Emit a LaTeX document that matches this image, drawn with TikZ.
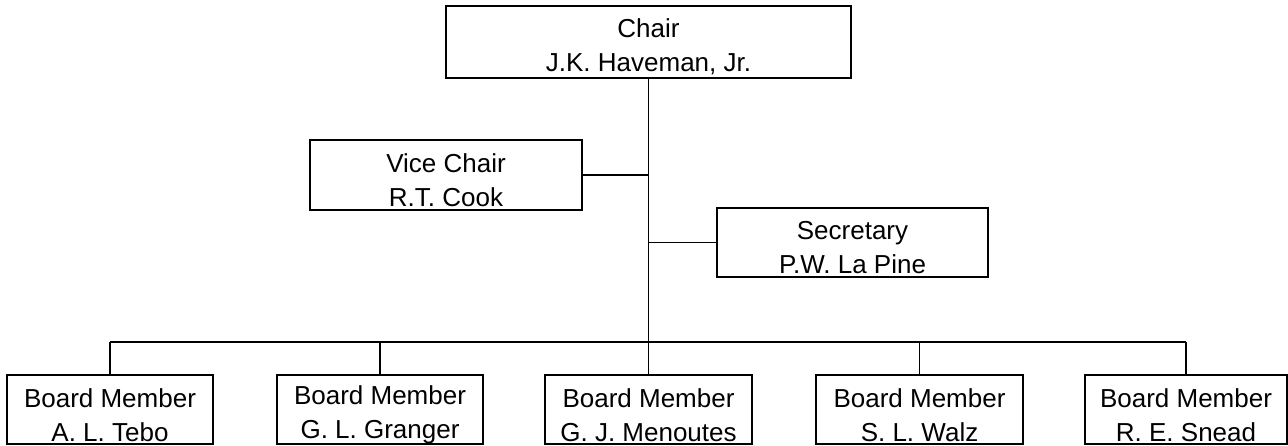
\documentclass[tikz,border=0pt]{standalone}
\usepackage{fontspec}
\setmainfont{Liberation Sans}
\begin{document}
\begin{tikzpicture}[x=1pt,y=-1pt,
  box/.style={draw=black,line width=1.7pt,rectangle,inner sep=0pt,fill=white},
  txt/.style={inner sep=0pt,align=center,font=\fontsize{26}{34}\selectfont},
  conn/.style={draw=black,line width=1.7pt}]
\useasboundingbox (0,0) rectangle (1288,445);
\node[box,minimum width=405pt,minimum height=72pt] (chair) at (648.5,42) {};
\node[box,minimum width=272pt,minimum height=70pt] (vice) at (446,175) {};
\node[box,minimum width=271pt,minimum height=69pt] (sec) at (852.5,242.5) {};
\node[box,minimum width=206pt,minimum height=69pt] (b1) at (110,409.5) {};
\node[box,minimum width=206pt,minimum height=69pt] (b2) at (380,409.5) {};
\node[box,minimum width=207pt,minimum height=69pt] (b3) at (648.5,409.5) {};
\node[box,minimum width=207pt,minimum height=69pt] (b4) at (919.5,409.5) {};
\node[box,minimum width=202pt,minimum height=69pt] (b5) at (1186,409.5) {};
\node[txt] (chairT) at ([yshift=-5pt]chair.center) {Chair\\J.K. Haveman, Jr.};
\node[txt] (viceT) at ([yshift=-5pt]vice.center) {Vice Chair\\R.T. Cook};
\node[txt] (secT) at ([yshift=-5pt]sec.center) {Secretary\\P.W. La Pine};
\node[txt] (b1T) at ([yshift=-5.5pt]b1.center) {Board Member\\A. L. Tebo};
\node[txt] (b2T) at ([yshift=-5.5pt]b2.center) {Board Member\\G. L. Granger};
\node[txt] (b3T) at ([yshift=-5.5pt]b3.center) {Board Member\\G. J. Menoutes};
\node[txt] (b4T) at ([yshift=-5.5pt]b4.center) {Board Member\\S. L. Walz};
\node[txt] (b5T) at ([yshift=-5.5pt]b5.center) {Board Member\\R. E. Snead};
\coordinate (bus) at (648.5,342);
\draw[conn] (chair.south) -- (bus);
\draw[conn] (vice.east) -- (vice.east -| chair.south);
\draw[conn] (sec.west) -- (sec.west -| chair.south);
\draw[conn] (b1.north |- bus) -- (b5.north |- bus);
\foreach \b in {b1,b2,b3,b4,b5} {\draw[conn] (\b.north) -- (\b.north |- bus);}
\end{tikzpicture}
\end{document}
